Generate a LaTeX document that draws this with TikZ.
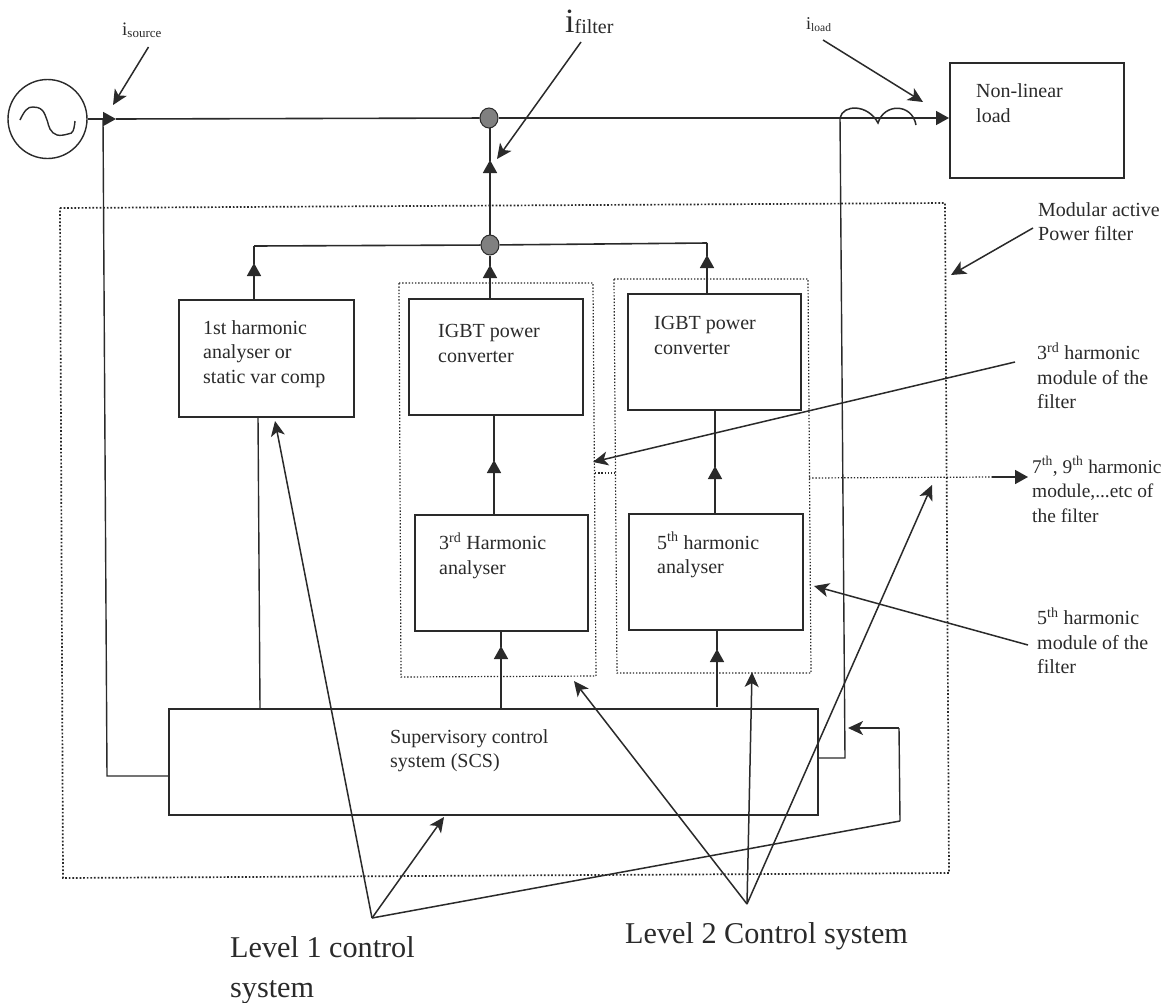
\documentclass[tikz,border=0pt]{standalone}
\usepackage{fontspec}
\setmainfont{Liberation Serif}
\usetikzlibrary{arrows.meta,shapes.geometric}
\definecolor{ink}{HTML}{2A2A2A}
\newcommand{\cursym}[4]{{\fontsize{#1}{#1}\selectfont i\raisebox{#4}{\fontsize{#2}{#2}\selectfont #3}}}
\tikzset{
  x=1pt,y=-1pt,
  wire/.style={draw=ink,line width=1.6pt},
  thin wire/.style={draw=ink,line width=1.4pt},
  bigtip/.style={-{Triangle[length=13pt,width=14pt]}},
  pointer/.style={draw=ink,line width=1.5pt,-{Stealth[length=15pt,width=14pt,inset=4pt]}},
  plain/.style={draw=ink,line width=1.5pt},
  box/.style={draw=ink,line width=1.6pt,anchor=north west,inner sep=0pt},
  outerdots/.style={draw=ink,line width=1.7pt,dash pattern=on 1.7pt off 1.9pt},
  moddots/.style={draw=ink,line width=1.2pt,dash pattern=on 1.4pt off 1.8pt},
  junction/.style={ellipse,draw=ink,line width=1pt,fill=black!50,minimum width=18pt,minimum height=20pt,inner sep=0pt},
  txt/.style={text=ink,inner sep=0pt,anchor=west,align=left,font=\fontsize{20}{24.5}\selectfont},
  bigtxt/.style={text=ink,inner sep=0pt,anchor=west,align=left,font=\fontsize{30.2}{40}\selectfont},
}
\begin{document}
\begin{tikzpicture}
\useasboundingbox (0,0) rectangle (1164,1002);
\fill[white] (0,0) rectangle (1164,1002);

% dotted enclosures
\draw[outerdots] (60,208) -- (945,203) -- (949,873) -- (63,878) -- cycle;
\draw[moddots] (399,283) -- (593,283) -- (596,676) -- (401,677) -- cycle;
\draw[moddots] (614,279) -- (808,279) -- (811,673) -- (617,673) -- cycle;

% blocks
\node[circle,draw=ink,line width=1.4pt,minimum size=79pt,inner sep=0pt] (src) at (47.5,119) {};
\node[box,minimum width=174pt,minimum height=115pt] (load) at (949,62) {};
\node[box,minimum width=175pt,minimum height=117pt] (h1) at (178,299) {};
\node[box,minimum width=174pt,minimum height=116pt] (igbtA) at (408,298) {};
\node[box,minimum width=173pt,minimum height=116pt] (igbtB) at (627,293) {};
\node[box,minimum width=173pt,minimum height=116pt] (anA) at (414,514) {};
\node[box,minimum width=174pt,minimum height=116pt] (anB) at (628,513) {};
\node[box,minimum width=649pt,minimum height=106pt] (scs) at (168,708) {};
\node[junction] (jtop) at (489,118) {};
\node[junction] (jmid) at (490,245) {};

% sine wave
\draw[ink,line width=1.4pt] plot[smooth,tension=0.7] coordinates {(20,120) (26,110) (33,107) (42,110) (47,120) (50,129) (57,135) (68,134) (73,131) (75,121)};

% named free points
\coordinate (tipA) at (116,119);
\coordinate (tap) at (103,119);
\coordinate (srcfoot) at (107,776);
\coordinate (coilL) at (840,118);
\coordinate (midL) at (254,246);
\coordinate (midR) at (707,243);
\coordinate (ctFoot) at (845,758);
\coordinate (ctTop) at (840,117);
\coordinate (fbTop) at (899,728);
\coordinate (fbArrow) at (848,728);
\coordinate (fbFoot) at (900,821);
\coordinate (lvlA) at (372,918);
\coordinate (lvlB) at (747,904);

% main line
\draw[wire,bigtip] (src.east) -- (tipA);
\draw[wire] (tipA) -- (jtop);
\draw[wire,bigtip] (jtop) -- (949,118);
% source tap
\draw[thin wire] (tap) -- (srcfoot) -- (168,776);
% coil + current transformer
\draw[plain] (coilL) .. controls (843,104) and (868,104) .. (878,123)
   .. controls (884,103) and (912,103) .. (916,125);
\draw[thin wire] (ctTop) -- (ctFoot) -- (817,758);
% feedback
\draw[thin wire] (fbFoot) -- (fbTop);
\draw[thin wire,-{Stealth[length=15pt,width=14pt,inset=4pt]}] (fbTop) -- (fbArrow);

% filter current
\draw[wire,bigtip] (jmid.north) -- (490,160);
\draw[wire] (490,161) -- (490,128);
% bus
\draw[wire] (midL) -- (jmid) -- (midR);
\draw[wire,bigtip] (254,299) -- (254,263);
\draw[wire] (254,264) -- (midL);
\draw[wire,bigtip] (490,298) -- (490,265);
\draw[wire] (490,266) -- (jmid);
\draw[wire,bigtip] (707,293) -- (707,255);
\draw[wire] (707,256) -- (midR);

% verticals
\draw[thin wire] (258,416) -- (260,708);
\draw[wire,bigtip] (494,514) -- (494,460);
\draw[wire] (494,461) -- (494,414);
\draw[wire,bigtip] (715,513) -- (715,466);
\draw[wire] (715,467) -- (715,409);
\draw[wire,bigtip] (501,708) -- (501,646);
\draw[wire] (501,647) -- (501,630);
\draw[wire,bigtip] (717,707) -- (717,649);
\draw[wire] (717,650) -- (717,629);

% harmonic tap dots
\draw[moddots] (595,473) -- (615,473);
\draw[moddots] (809,478) -- (992,477);
\draw[wire,bigtip] (992,477) -- (1028,477);

% annotation pointers
\draw[pointer] (148.5,47) -- (113,105);
\draw[pointer] (581,42) -- (497,159);
\draw[pointer] (823,40) -- (923,102);
\draw[pointer] (1033,228) -- (951,275);
\draw[pointer] (1015,362) -- (593,462);
\draw[pointer] (1028,645) -- (814,586);
\draw[pointer] (lvlA) -- (275,421);
\draw[pointer] (lvlA) -- (444,817);
\draw[plain] (lvlA) -- (fbFoot);
\draw[pointer] (lvlB) -- (574,681);
\draw[pointer] (lvlB) -- (752,672);
\draw[pointer] (lvlB) -- (932,485);

% labels
\node[txt,anchor=base west] (isrc) at (122,35) {\cursym{19}{13}{source}{-2pt}};
\node[txt,anchor=base west] (ifil) at (565,32) {\cursym{34}{20}{filter}{-1.5pt}};
\node[txt,anchor=base west] (ilod) at (806,29) {\cursym{18}{11.5}{load}{-2pt}};
\node[txt] (tload) at (976,103) {Non-linear\\load};
\node[txt] (tmod) at (1038,221.5) {Modular active\\Power filter};
\node[txt] (th1) at (203,354) {1st harmonic\\analyser or\\static var comp};
\node[txt] (tiA) at (438,343.5) {IGBT power\\converter};
\node[txt] (tiB) at (654,335.5) {IGBT power\\converter};
\node[txt] (taA) at (439,555.5) {3\textsuperscript{rd} Harmonic\\analyser};
\node[txt] (taB) at (657,555) {5\textsuperscript{th} harmonic\\analyser};
\node[txt] (tscs) at (390,750.5) {Supervisory control\\system (SCS)};
\node[txt] (t3) at (1037,375.5) {3\textsuperscript{rd} harmonic\\module of the\\filter};
\node[txt,font=\fontsize{19.4}{24.5}\selectfont] (t7) at (1032,489.5) {7\textsuperscript{th}, 9\textsuperscript{th} harmonic\\module,...etc of\\the filter};
\node[txt] (t5) at (1037,640.5) {5\textsuperscript{th} harmonic\\module of the\\filter};
\node[bigtxt] (tl1) at (230,970) {Level 1 control\\system};
\node[bigtxt] (tl2) at (625,936) {Level 2 Control system};
\end{tikzpicture}
\end{document}
